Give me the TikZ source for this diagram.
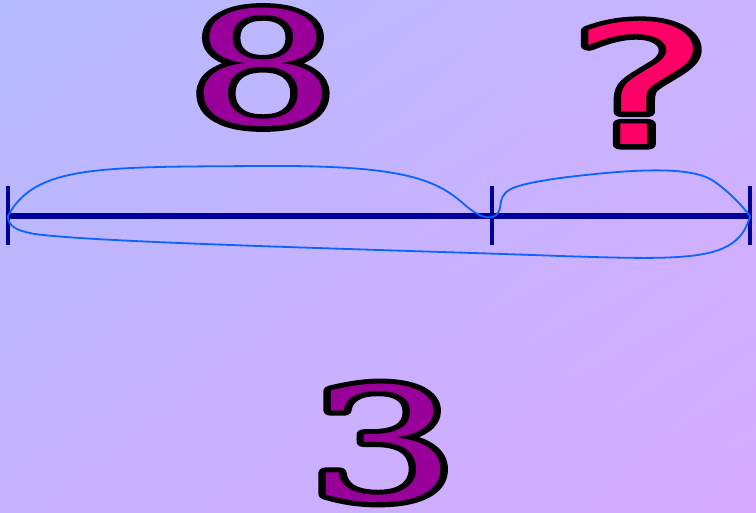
\documentclass[tikz,border=0pt]{standalone}
\usepackage{fontspec}
\usetikzlibrary{shadings}
\newfontfamily\numfont{DejaVu Serif}
\newfontfamily\qfont{DejaVu Sans}
\definecolor{bgtl}{HTML}{B4BAFF}
\definecolor{bgbr}{HTML}{D7AAFF}
\definecolor{bgtr}{HTML}{C9B4FF}
\definecolor{bgbl}{HTML}{C5B2FF}
\definecolor{axisblue}{HTML}{000099}
\definecolor{bracecol}{HTML}{0A64FF}
\definecolor{numpurple}{HTML}{990099}
\definecolor{qpink}{HTML}{FF0066}
\newcommand{\outlined}[2]{\rlap{\color{black}\special{pdf:code 0 0 0 RG 1 Tr 1 j 10 w}#2\special{pdf:code 0 Tr 0 j 1 w}}{\color{#1}#2}}
\tikzset{
  axis/.style={axisblue, line width=5.5pt},
  tick/.style={axisblue, line width=4pt},
  bracecurve/.style={bracecol, line width=1.8pt},
  numlabel/.style={inner sep=0pt, font=\numfont\fontsize{157}{157}\selectfont, xscale=1.5, transform shape},
  qlabel/.style={inner sep=0pt, font=\qfont\fontsize{166}{166}\selectfont, xscale=1.62, transform shape},
}
\begin{document}
\begin{tikzpicture}[x=1pt,y=-1pt]
\shade[upper left=bgtl, lower right=bgbr, upper right=bgtr, lower left=bgbl] (0,0) rectangle (756,513);
\useasboundingbox (0,0) rectangle (756,513);
\coordinate (A) at (8,216);
\coordinate (B) at (492,216);
\coordinate (C) at (750,216);
\coordinate (D) at (500,208);
\draw[axis] (A) -- (C);
\draw[tick] ([yshift=-29pt]A) -- ([yshift=30pt]A);
\draw[tick] ([yshift=-29pt]B) -- ([yshift=30pt]B);
\draw[tick] ([yshift=-29pt]C) -- ([yshift=30pt]C);
\draw[bracecurve] (A) .. controls (35,165) and (100,167) .. (260,166)
  .. controls (400,165) and (435,178) .. (465,205)
  .. controls (482,220) and (497,222) .. (D);
\draw[bracecurve] (D) .. controls (502,190) and (506,186) .. (560,178)
  .. controls (640,168) and (690,167) .. (712,180)
  .. controls (730,192) and (744,208) .. (C);
\draw[bracecurve] (C) .. controls (738,262) and (690,260) .. (560,256)
  .. controls (400,250) and (100,243) .. (35,234)
  .. controls (12,230) and (8,224) .. (A);
\node[numlabel] (eight) at (263,67.5) {\outlined{numpurple}{8}};
\node[qlabel] (quest) at (641,83) {\outlined{qpink}{?}};
\node[numlabel] (three) at (383,443) {\outlined{numpurple}{3}};
\end{tikzpicture}
\end{document}
